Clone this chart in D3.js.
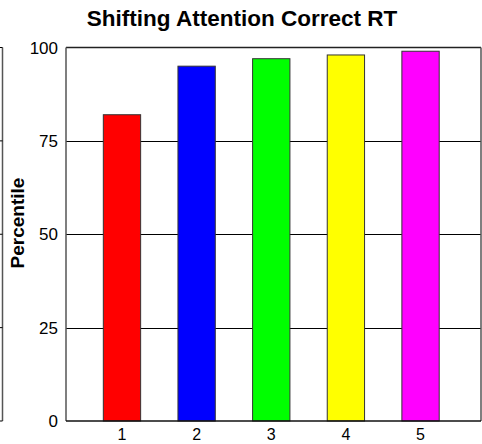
<!DOCTYPE html>
<html>
<head>
<meta charset="utf-8">
<script src="https://cdn.jsdelivr.net/npm/d3@7"></script>
<style>
  body { margin: 0; background: #fff; }
  text { font-family: "Liberation Sans", Arial, sans-serif; }
</style>
</head>
<body>
<script>
// chart data
var categories = [1, 2, 3, 4, 5];
var percentiles = [82, 95, 97, 98, 99];
var barColors = ["#ff0000", "#0000ff", "#00ff00", "#ffff00", "#ff00ff"];
var yTicks = [0, 25, 50, 75, 100];

var W = 482, H = 444;
var plotL = 66, plotR = 481, plotT = 47.5, plotB = 421;

var svg = d3.select("body").append("svg")
  .attr("width", W)
  .attr("height", H);

var x = d3.scaleLinear().domain([0.25, 5.81]).range([plotL, plotR]);
var y = d3.scaleLinear().domain([0, 100]).range([plotB, plotT]);
var barW = x(1.5) - x(1);

// bit of the neighbouring chart's frame on the far left
svg.append("line")
  .attr("x1", 2.5).attr("x2", 2.5)
  .attr("y1", y(100)).attr("y2", y(0))
  .attr("stroke", "#555").attr("stroke-width", 1.5);
svg.selectAll("line.stub").data(yTicks).enter().append("line")
  .attr("class", "stub")
  .attr("x1", 0).attr("x2", 2.5)
  .attr("y1", function(d) { return y(d); })
  .attr("y2", function(d) { return y(d); })
  .attr("stroke", "#000");

// gridlines
svg.selectAll("line.grid").data(yTicks.slice(1, 4)).enter().append("line")
  .attr("class", "grid")
  .attr("x1", plotL).attr("x2", plotR)
  .attr("y1", function(d) { return Math.round(y(d)) + 0.5; })
  .attr("y2", function(d) { return Math.round(y(d)) + 0.5; })
  .attr("stroke", "#000").attr("stroke-width", 1);

// bars
svg.selectAll("rect.bar").data(percentiles).enter().append("rect")
  .attr("class", "bar")
  .attr("x", function(d, i) { return x(categories[i]) - barW / 2; })
  .attr("y", function(d) { return y(d); })
  .attr("width", barW)
  .attr("height", function(d) { return y(0) - y(d); })
  .attr("fill", function(d, i) { return barColors[i]; })
  .attr("stroke", "#333").attr("stroke-width", 1);

// frame
svg.append("line").attr("x1", plotL).attr("x2", plotR).attr("y1", plotT).attr("y2", plotT)
  .attr("stroke", "#222").attr("stroke-width", 1.5);
svg.append("line").attr("x1", plotR).attr("x2", plotR).attr("y1", plotT).attr("y2", plotB)
  .attr("stroke", "#555").attr("stroke-width", 1.5);
svg.append("line").attr("x1", plotL).attr("x2", plotL).attr("y1", plotT).attr("y2", plotB)
  .attr("stroke", "#555").attr("stroke-width", 1.5);
svg.append("line").attr("x1", plotL).attr("x2", plotR).attr("y1", plotB).attr("y2", plotB)
  .attr("stroke", "#111").attr("stroke-width", 1.5);

// y labels
svg.selectAll("text.ytick").data(yTicks).enter().append("text")
  .attr("class", "ytick")
  .attr("x", 58)
  .attr("y", function(d) { return y(d) + 6; })
  .attr("text-anchor", "end")
  .attr("font-size", 17)
  .text(function(d) { return d; });

// x labels
svg.selectAll("text.xtick").data(categories).enter().append("text")
  .attr("class", "xtick")
  .attr("x", function(d) { return x(d); })
  .attr("y", 440)
  .attr("text-anchor", "middle")
  .attr("font-size", 16)
  .text(function(d) { return d; });

// y axis title
svg.append("text")
  .attr("transform", "translate(24,223) rotate(-90)")
  .attr("text-anchor", "middle")
  .attr("font-size", 19)
  .attr("font-weight", "bold")
  .text("Percentile");

svg.append("text")
  .attr("x", 242).attr("y", 26)
  .attr("text-anchor", "middle")
  .attr("font-size", 22.5)
  .attr("font-weight", "bold")
  .text("Shifting Attention Correct RT");
</script>
</body>
</html>
